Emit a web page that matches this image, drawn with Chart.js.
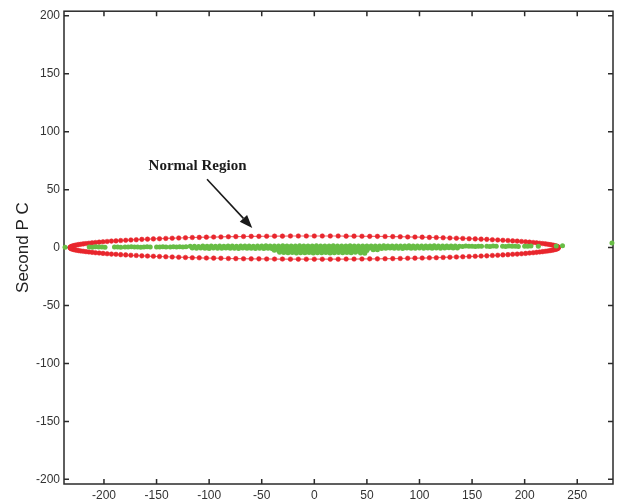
<!DOCTYPE html>
<html>
<head>
<meta charset="utf-8">
<script src="https://cdn.jsdelivr.net/npm/chart.js@4.4.0/dist/chart.umd.min.js"></script>
<style>
  body { margin: 0; background: #fff; }
  #pcChart { display: block; }
</style>
</head>
<body>
<canvas id="pcChart" width="621" height="500"></canvas>
<script>
// tick labels
const xTicks = [-200, -150, -100, -50, 0, 50, 100, 150, 200, 250];
const yTicks = [-200, -150, -100, -50, 0, 50, 100, 150, 200];

// boundary of the normal region (red ellipse), top and bottom halves share x
const ellipseX = [
  232.0, 231.9, 231.5, 230.9, 230.0, 228.9, 227.5, 225.9, 224.1, 222.0, 219.7, 217.1, 214.3, 211.3, 208.1, 204.6,
  200.9, 197.0, 192.9, 188.6, 184.1, 179.3, 174.4, 169.3, 164.0, 158.6, 153.0, 147.2, 141.2, 135.1, 128.9, 122.5,
  116.0, 109.4, 102.6, 95.7, 88.8, 81.7, 74.6, 67.3, 60.0, 52.7, 45.3, 37.8, 30.3, 22.7, 15.2, 7.6, 0,
  -7.6, -15.2, -22.7, -30.3, -37.8, -45.3, -52.7, -60.0, -67.3, -74.6, -81.7, -88.8, -95.7, -102.6, -109.4, -116.0,
  -122.5, -128.9, -135.1, -141.2, -147.2, -153.0, -158.6, -164.0, -169.3, -174.4, -179.3, -184.1, -188.6, -192.9,
  -197.0, -200.9, -204.6, -208.1, -211.3, -214.3, -217.1, -219.7, -222.0, -224.1, -225.9, -227.5, -228.9, -230.0,
  -230.9, -231.5, -231.9, -232.0
];
const ellipseTopY = [
  0, 0.3, 0.7, 1.0, 1.3, 1.6, 2.0, 2.3, 2.6, 2.9, 3.2, 3.5, 3.8, 4.1, 4.4, 4.7,
  5.0, 5.3, 5.6, 5.8, 6.1, 6.3, 6.6, 6.8, 7.1, 7.3, 7.5, 7.7, 7.9, 8.1, 8.3, 8.5,
  8.7, 8.8, 9.0, 9.1, 9.2, 9.4, 9.5, 9.6, 9.7, 9.7, 9.8, 9.9, 9.9, 10.0, 10.0, 10.0, 10.0,
  10.0, 10.0, 10.0, 9.9, 9.9, 9.8, 9.7, 9.7, 9.6, 9.5, 9.4, 9.2, 9.1, 9.0, 8.8, 8.7,
  8.5, 8.3, 8.1, 7.9, 7.7, 7.5, 7.3, 7.1, 6.8, 6.6, 6.3, 6.1, 5.8, 5.6,
  5.3, 5.0, 4.7, 4.4, 4.1, 3.8, 3.5, 3.2, 2.9, 2.6, 2.3, 2.0, 1.6, 1.3,
  1.0, 0.7, 0.3, 0
];
const ellipseBottomY = [
  0, -0.3, -0.7, -1.0, -1.3, -1.6, -2.0, -2.3, -2.6, -2.9, -3.2, -3.5, -3.8, -4.1, -4.4, -4.7,
  -5.0, -5.3, -5.6, -5.8, -6.1, -6.3, -6.6, -6.8, -7.1, -7.3, -7.5, -7.7, -7.9, -8.1, -8.3, -8.5,
  -8.7, -8.8, -9.0, -9.1, -9.2, -9.4, -9.5, -9.6, -9.7, -9.7, -9.8, -9.9, -9.9, -10.0, -10.0, -10.0, -10.0,
  -10.0, -10.0, -10.0, -9.9, -9.9, -9.8, -9.7, -9.7, -9.6, -9.5, -9.4, -9.2, -9.1, -9.0, -8.8, -8.7,
  -8.5, -8.3, -8.1, -7.9, -7.7, -7.5, -7.3, -7.1, -6.8, -6.6, -6.3, -6.1, -5.8, -5.6,
  -5.3, -5.0, -4.7, -4.4, -4.1, -3.8, -3.5, -3.2, -2.9, -2.6, -2.3, -2.0, -1.6, -1.3,
  -1.0, -0.7, -0.3, 0
];

// first / second PC scores of the samples (green), [x, y]
const scores = [
  // left sparse part
  [-237, 0.3],
  [-214, 0.6], [-211, 0.4], [-208, 0.7], [-205, 0.5], [-202, 0.6], [-199, 0.4],
  [-190, 0.5], [-187, 0.6], [-184, 0.4],
  [-180, 0.6], [-177, 0.5], [-174, 0.7], [-171, 0.5], [-168, 0.6], [-165, 0.4], [-162, 0.6], [-159, 0.7], [-156, 0.5],
  [-150, 0.6], [-147, 0.5], [-144, 0.7], [-141, 0.5],
  [-137, 0.6], [-134, 0.8], [-131, 0.5], [-128, 0.7], [-125, 0.6], [-122, 0.8],
  // main band, upper
  [-118, 1.1], [-114, 1.2], [-110, 1.0], [-106, 1.3], [-102, 1.2], [-98, 1.3], [-94, 1.1], [-90, 1.3],
  [-86, 1.2], [-82, 1.4], [-78, 1.3], [-74, 1.2], [-70, 1.4], [-66, 1.3], [-62, 1.4], [-58, 1.2],
  [-54, 1.4], [-50, 1.3], [-46, 1.5], [-42, 1.4], [-38, 1.4], [-34, 1.3], [-30, 1.5], [-26, 1.4],
  [-22, 1.4], [-18, 1.3], [-14, 1.5], [-10, 1.4], [-6, 1.4], [-2, 1.3], [2, 1.5], [6, 1.3],
  [10, 1.4], [14, 1.3], [18, 1.5], [22, 1.3], [26, 1.4], [30, 1.3], [34, 1.5], [38, 1.3],
  [42, 1.4], [46, 1.3], [50, 1.4], [54, 1.3], [58, 1.4], [62, 1.3], [66, 1.5], [70, 1.3],
  [74, 1.4], [78, 1.3], [82, 1.4], [86, 1.3], [90, 1.5], [94, 1.3], [98, 1.4], [102, 1.3],
  [106, 1.4], [110, 1.3], [114, 1.5], [118, 1.3], [122, 1.4], [126, 1.3], [130, 1.4], [134, 1.3],
  // main band, lower
  [-116, -0.4], [-112, -0.6], [-108, -0.3], [-104, -0.5], [-100, -0.7], [-96, -0.4], [-92, -0.6], [-88, -0.5],
  [-84, -0.3], [-80, -0.6], [-76, -0.5], [-72, -0.7], [-68, -0.4], [-64, -0.6], [-60, -0.5], [-56, -0.8],
  [-52, -0.6], [-48, -0.7], [-44, -0.5], [-40, -0.9], [-36, -0.7], [-32, -0.8], [-28, -0.6], [-24, -0.9],
  [-20, -0.7], [-16, -0.8], [-12, -0.6], [-8, -0.9], [-4, -0.7], [0, -0.8], [4, -0.6], [8, -0.9],
  [12, -0.7], [16, -0.8], [20, -0.6], [24, -0.9], [28, -0.7], [32, -0.8], [36, -0.6], [40, -0.9],
  [44, -0.7], [48, -0.8], [52, -0.6], [56, -0.7], [60, -0.5], [64, -0.7], [68, -0.6], [72, -0.4],
  [76, -0.6], [80, -0.5], [84, -0.7], [88, -0.4], [92, -0.6], [96, -0.5], [100, -0.3], [104, -0.6],
  [108, -0.4], [112, -0.5], [116, -0.3], [120, -0.5], [124, -0.4], [128, -0.2], [132, -0.4], [136, -0.3],
  // dense centre
  [-38, -2.2], [-34, -2.6], [-30, -2.9], [-26, -2.7], [-22, -3.0], [-18, -2.8], [-14, -3.1], [-10, -2.9],
  [-6, -3.0], [-2, -2.7], [2, -3.1], [6, -2.9], [10, -3.0], [14, -2.8], [18, -3.1], [22, -2.9],
  [26, -3.0], [30, -2.7], [34, -3.0], [38, -2.8], [42, -3.1], [46, -2.9], [50, -2.5], [56, -1.9], [60, -1.8],
  [-33, -4.0], [-29, -4.3], [-25, -4.5], [-21, -4.2], [-17, -4.6], [-13, -4.4], [-9, -4.5], [-5, -4.3],
  [-1, -4.6], [3, -4.4], [7, -4.5], [11, -4.2], [15, -4.6], [19, -4.4], [23, -4.3], [27, -4.5],
  [31, -4.2], [35, -4.4], [39, -4.1], [44, -4.7], [48, -4.9],
  // right sparse part
  [138, 1.2], [141, 1.0], [144, 1.3], [147, 1.1], [150, 1.2], [153, 1.0], [156, 1.2], [159, 1.1],
  [164, 1.2], [167, 1.0], [170, 1.3], [173, 1.1],
  [179, 1.2], [182, 1.0], [185, 1.3], [188, 1.1], [191, 1.2], [194, 1.0],
  [200, 1.2], [203, 1.1], [206, 1.3],
  [213, 1.1], [230, 1.4], [236, 1.5],
  [283, 4.0]
];

// annotation text and arrow (data coordinates)
const noteText = "Normal Region";
const notePos = [-111, 70];
const arrowFrom = [-102, 59];
const arrowTo = [-59, 17];

const red = "#e8262d";
const green = "#68bd45";

Chart.defaults.font.family = "'Liberation Sans', Arial, sans-serif";

// matlab style box: frame with inward ticks on all 4 sides
const boxFrame = {
  id: "boxFrame",
  beforeDatasetsDraw(chart) {
    const { ctx, chartArea: a, scales } = chart;
    ctx.save();
    ctx.strokeStyle = "#2a2a2a";
    ctx.lineWidth = 1.5;
    ctx.strokeRect(a.left, a.top, a.right - a.left, a.bottom - a.top);
    ctx.beginPath();
    xTicks.forEach((v) => {
      const px = scales.x.getPixelForValue(v);
      ctx.moveTo(px, a.bottom);
      ctx.lineTo(px, a.bottom - 5);
      ctx.moveTo(px, a.top);
      ctx.lineTo(px, a.top + 5);
    });
    yTicks.forEach((v) => {
      const py = scales.y.getPixelForValue(v);
      ctx.moveTo(a.left, py);
      ctx.lineTo(a.left + 5, py);
      ctx.moveTo(a.right, py);
      ctx.lineTo(a.right - 5, py);
    });
    ctx.stroke();
    ctx.restore();
  },
  afterDatasetsDraw(chart) {
    const { ctx, scales: { x, y } } = chart;
    ctx.save();
    ctx.fillStyle = "#1a1a1a";
    ctx.font = "bold 15px 'Liberation Serif', 'Times New Roman', serif";
    ctx.textAlign = "center";
    ctx.textBaseline = "middle";
    ctx.fillText(noteText, x.getPixelForValue(notePos[0]), y.getPixelForValue(notePos[1]));

    const x1 = x.getPixelForValue(arrowFrom[0]), y1 = y.getPixelForValue(arrowFrom[1]);
    const x2 = x.getPixelForValue(arrowTo[0]), y2 = y.getPixelForValue(arrowTo[1]);
    const ang = Math.atan2(y2 - y1, x2 - x1);
    const headLen = 13, headW = 5;
    const bx = x2 - headLen * Math.cos(ang), by = y2 - headLen * Math.sin(ang);
    ctx.strokeStyle = "#1a1a1a";
    ctx.lineWidth = 1.6;
    ctx.beginPath();
    ctx.moveTo(x1, y1);
    ctx.lineTo(bx, by);
    ctx.stroke();
    ctx.beginPath();
    ctx.moveTo(x2, y2);
    ctx.lineTo(bx + headW * Math.sin(ang), by - headW * Math.cos(ang));
    ctx.lineTo(bx - headW * Math.sin(ang), by + headW * Math.cos(ang));
    ctx.closePath();
    ctx.fill();
    ctx.restore();
  }
};

new Chart(document.getElementById("pcChart"), {
  type: "scatter",
  data: {
    datasets: [
      {
        label: "samples",
        data: scores.map(([px, py]) => ({ x: px, y: py })),
        pointRadius: 2.5,
        pointBackgroundColor: green,
        pointBorderWidth: 0,
        clip: false,
      },
      {
        label: "boundary top",
        data: ellipseX.map((v, i) => ({ x: v, y: ellipseTopY[i] })),
        showLine: true,
        borderColor: "rgba(232, 38, 45, 0.7)",
        borderWidth: 1.2,
        pointRadius: 2.3,
        pointBackgroundColor: red,
        pointBorderColor: red,
        pointBorderWidth: 0.5,
      },
      {
        label: "boundary bottom",
        data: ellipseX.map((v, i) => ({ x: v, y: ellipseBottomY[i] })),
        showLine: true,
        borderColor: "rgba(232, 38, 45, 0.7)",
        borderWidth: 1.2,
        pointRadius: 2.3,
        pointBackgroundColor: red,
        pointBorderColor: red,
        pointBorderWidth: 0.5,
      },
    ],
  },
  options: {
    responsive: false,
    animation: false,
    layout: { padding: { top: 10, right: 8, left: 0, bottom: 0 } },
    plugins: {
      legend: { display: false },
      tooltip: { enabled: false },
    },
    scales: {
      x: {
        type: "linear",
        min: -238,
        max: 284,
        afterBuildTicks: (scale) => { scale.ticks = xTicks.map((v) => ({ value: v })); },
        afterFit: (scale) => { scale.height = 16; },
        grid: { display: false, drawTicks: false },
        border: { display: false },
        ticks: { color: "#333", font: { size: 12 }, padding: 4, maxRotation: 0 },
      },
      y: {
        type: "linear",
        min: -204,
        max: 204,
        afterBuildTicks: (scale) => { scale.ticks = yTicks.map((v) => ({ value: v })); },
        afterFit: (scale) => { scale.width = 64; },
        grid: { display: false, drawTicks: false },
        border: { display: false },
        ticks: { color: "#333", font: { size: 12 }, padding: 4 },
        title: {
          display: true,
          text: "Second P C",
          color: "#222",
          font: { size: 17 },
          padding: { top: 13, bottom: 0 },
        },
      },
    },
  },
  plugins: [boxFrame],
});
</script>
</body>
</html>
